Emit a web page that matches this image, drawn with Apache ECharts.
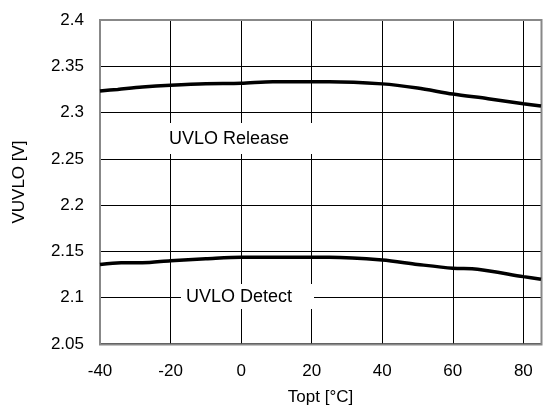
<!DOCTYPE html>
<html><head><meta charset="utf-8">
<script src="https://cdn.jsdelivr.net/npm/echarts@6/dist/echarts.min.js"></script>
<style>html,body{margin:0;padding:0;background:#fff}#c{width:543px;height:412px}</style>
</head><body><div id="c"></div>
<script>
const xTicks = [-40, -20, 0, 20, 40, 60, 80];
const releaseT = [-40, -35, -28, -20, -10, 0, 9, 25, 40, 50, 60, 70, 80, 85];
const releaseV = [2.3233, 2.3250, 2.3275, 2.3295, 2.3312, 2.3316, 2.3334, 2.3334, 2.3310, 2.3265, 2.3200, 2.3150, 2.3095, 2.3070];
const detectT = [-40, -34, -28, -20, -10, 0, 25, 40, 50, 60, 67, 80, 85];
const detectV = [2.1360, 2.1378, 2.1378, 2.1400, 2.1420, 2.1437, 2.1437, 2.1408, 2.1360, 2.1318, 2.1308, 2.1228, 2.1200];
const releaseLabel = 'UVLO Release';
const detectLabel = 'UVLO Detect';

const chart = echarts.init(document.getElementById('c'));
const font = '"Liberation Sans", Arial, sans-serif';
chart.setOption({
  animation: false,
  grid: {left: 100, right: 2, top: 20, bottom: 68, containLabel: false, outerBoundsMode: 'none'},
  xAxis: {
    type: 'value', min: -40, max: 85, interval: 20,
    name: 'Topt [°C]', nameLocation: 'middle', nameGap: 45,
    nameTextStyle: {fontFamily: font, fontSize: 17, color: '#000'},
    axisLine: {show: true, onZero: false, lineStyle: {color: '#000', width: 1.5}},
    axisTick: {show: false},
    axisLabel: {fontFamily: font, fontSize: 17, color: '#000', margin: 19,
      formatter: v => xTicks.includes(v) ? String(v) : ''},
    splitLine: {show: true, lineStyle: {color: '#000', width: 1}}
  },
  yAxis: {
    type: 'value', min: 2.05, max: 2.4, interval: 0.05,
    name: 'VUVLO [V]', nameLocation: 'middle', nameGap: 72,
    nameTextStyle: {fontFamily: font, fontSize: 17, color: '#000'},
    axisLine: {show: true, onZero: false, lineStyle: {color: '#000', width: 1.5}},
    axisTick: {show: false},
    axisLabel: {fontFamily: font, fontSize: 17, color: '#000', margin: 16,
      formatter: v => String(parseFloat(v.toFixed(2)))},
    splitLine: {show: true, lineStyle: {color: '#000', width: 1}}
  },
  series: [
    {type: 'line', data: releaseT.map((t, i) => [t, releaseV[i]]), showSymbol: false, smooth: 0.3,
     lineStyle: {color: '#000', width: 3.5}, z: 5},
    {type: 'line', data: detectT.map((t, i) => [t, detectV[i]]), showSymbol: false, smooth: 0.3,
     lineStyle: {color: '#000', width: 3.5}, z: 5}
  ],
  graphic: [
    {type: 'rect', shape: {x: 100, y: 20, width: 441.5, height: 324.5}, style: {fill: 'none', stroke: '#888', lineWidth: 2}, z: 1, silent: true},
    {type: 'rect', shape: {x: 163, y: 123, width: 152, height: 31}, style: {fill: '#fff'}, z: 10},
    {type: 'text', x: 169, y: 139, style: {text: releaseLabel, font: '18px ' + font, fill: '#000', textVerticalAlign: 'middle'}, z: 11},
    {type: 'rect', shape: {x: 181, y: 284, width: 133, height: 25}, style: {fill: '#fff'}, z: 10},
    {type: 'text', x: 186, y: 297, style: {text: detectLabel, font: '18px ' + font, fill: '#000', textVerticalAlign: 'middle'}, z: 11}
  ]
});
</script></body></html>
